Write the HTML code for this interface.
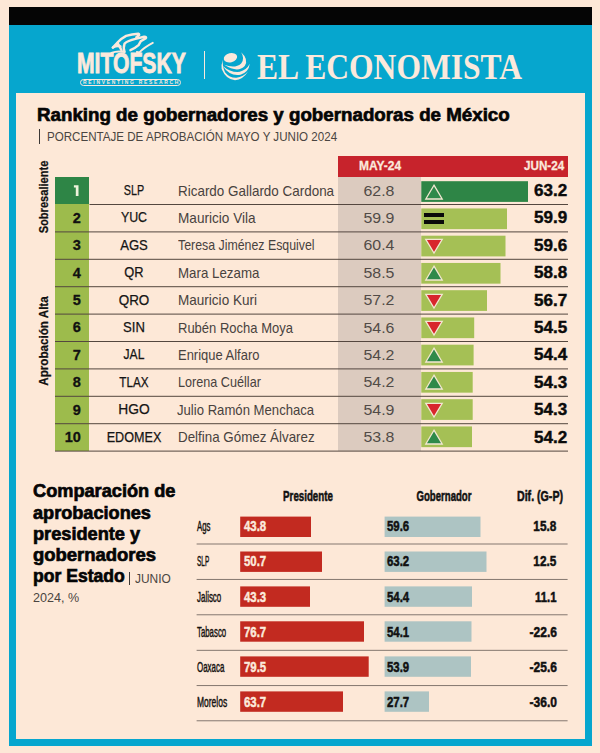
<!DOCTYPE html>
<html lang="es">
<head>
<meta charset="utf-8">
<title>Ranking de gobernadores y gobernadoras de México</title>
<style>
*{margin:0;padding:0;box-sizing:border-box}
html,body{width:600px;height:753px;overflow:hidden;background:#fde8d7;font-family:"Liberation Sans",sans-serif;color:#111}
.a{position:absolute}
.t{position:absolute;white-space:nowrap;line-height:1}
.ln{position:absolute;height:1px;background:#54473f}
  .rk{position:absolute;left:55px;width:34.2px;background:#9dbb4c}
.bar{position:absolute;left:421.3px;background:#a5c055}
.rb{position:absolute;left:240.2px;background:#c22a20}
.gb{position:absolute;left:384.5px;background:#adc4c3}
</style>
</head>
<body>
<div class="a" style="left:8.7px;top:7px;width:583.6px;height:18px;background:#050505"></div>
<div class="a" style="left:8.7px;top:24.5px;width:583.6px;height:721px;background:#06a6ce"></div>
<div class="a" style="left:16px;top:92.8px;width:569.3px;height:645.9px;background:#fde8d7"></div>
<!-- header logos -->
<svg class="a" style="left:105.6px;top:28.6px" width="52" height="31.2" viewBox="0 0 600 360" fill="none" stroke="#fbe9dc" stroke-width="28" stroke-linecap="round" stroke-linejoin="round">
<path d="M78 214 L130 160 Q165 115 232 80 Q300 58 372 54 Q392 62 376 78 L350 96"/>
<path d="M214 262 Q196 226 214 168 Q250 134 340 114 L440 90 Q476 92 456 110 L402 140 L376 186 Q340 218 282 244"/>
<path d="M356 266 L386 270 Q440 212 540 160" stroke-width="22"/>
<path d="M80 214 Q128 188 166 202"/>
<path d="M132 162 Q160 200 180 250"/>
<path d="M62 276 Q130 248 214 266" stroke-width="22"/>
</svg>
<div class="t" id="mito" style="left:77px;top:47.6px;font-size:30px;font-weight:bold;color:#fbe9dc;-webkit-text-stroke:0.9px #fbe9dc;transform:scaleX(0.7045);transform-origin:0 50%">MITOFSKY</div>
<div class="a" style="left:80px;top:78.5px;width:100.5px;height:7.8px;border:0.9px solid #fbe9dc;border-radius:4px"></div>
<div class="t" id="rr" style="left:83px;top:80px;font-size:5.4px;font-weight:bold;color:#fbe9dc;letter-spacing:1.9px;transform:scaleX(0.9112);transform-origin:0 50%">REINVENTING RESEARCH</div>
<div class="a" style="left:203.6px;top:51.2px;width:1.4px;height:28px;background:#fbe9dc"></div>
<svg class="a" style="left:215px;top:46px" width="40" height="40" viewBox="0 0 600 600" fill="#fbe9dc">
<ellipse cx="232" cy="176" rx="102" ry="68" transform="rotate(-14 232 176)"/>
<path d="M392 92 Q510 200 446 300 Q340 410 138 282 Q300 345 392 262 Q452 190 392 92 Z"/>
<path d="M522 266 Q506 390 382 432 Q226 462 116 300 Q240 404 372 388 Q474 358 522 266 Z"/>
<path d="M496 382 Q420 504 300 512 Q166 508 100 346 Q90 280 120 206 Q106 300 150 392 Q222 482 322 476 Q424 464 496 382 Z"/>
</svg>
<div class="t" id="eco" style="left:257px;top:49.6px;font-size:35px;color:#fbe9dc;font-family:'Liberation Serif',serif;font-weight:bold;transform:scaleX(0.9014);transform-origin:0 50%">EL ECONOMISTA</div>

<svg class="a" style="left:0;top:0" width="600" height="753" viewBox="0 0 600 753"><rect x="421.3" y="181.20" width="106.7" height="20.7" fill="#2e8546"/><rect x="421.3" y="208.45" width="85.7" height="20.7" fill="#a5c055"/><rect x="421.3" y="235.70" width="84.2" height="20.7" fill="#a5c055"/><rect x="421.3" y="262.95" width="79.2" height="20.7" fill="#a5c055"/><rect x="421.3" y="290.20" width="65.7" height="20.7" fill="#a5c055"/><rect x="421.3" y="317.45" width="52.9" height="20.7" fill="#a5c055"/><rect x="421.3" y="344.70" width="52.3" height="20.7" fill="#a5c055"/><rect x="421.3" y="371.95" width="51.4" height="20.7" fill="#a5c055"/><rect x="421.3" y="399.20" width="51.4" height="20.7" fill="#a5c055"/><rect x="421.3" y="426.45" width="50.7" height="20.7" fill="#a5c055"/><rect x="240.2" y="516.6" width="70.8" height="20.4" fill="#c22a20"/><rect x="384.6" y="516.6" width="95.9" height="20.4" fill="#adc4c3"/><rect x="240.2" y="551.5" width="81.8" height="20.4" fill="#c22a20"/><rect x="384.6" y="551.5" width="101.9" height="20.4" fill="#adc4c3"/><rect x="240.2" y="586.4" width="69.8" height="20.4" fill="#c22a20"/><rect x="384.6" y="586.4" width="87.4" height="20.4" fill="#adc4c3"/><rect x="240.2" y="621.3" width="123.8" height="20.4" fill="#c22a20"/><rect x="384.6" y="621.3" width="86.9" height="20.4" fill="#adc4c3"/><rect x="240.2" y="656.4" width="128.5" height="20.4" fill="#c22a20"/><rect x="384.6" y="656.4" width="86.4" height="20.4" fill="#adc4c3"/><rect x="240.2" y="691.4" width="102.8" height="20.4" fill="#c22a20"/><rect x="384.6" y="691.4" width="44.4" height="20.4" fill="#adc4c3"/></svg>
<div class="t" id="title" style="font-size:18px;color:#050505;font-weight:bold;-webkit-text-stroke:0.65px #050505;left:37.4px;top:105.9px;transform-origin:0 50%;transform:scaleX(1.0410);">Ranking de gobernadores y gobernadoras de México</div>
<div class="a" style="left:39px;top:129px;width:1.2px;height:15px;background:#3c3835"></div>
<div class="t" id="sub" style="font-size:13px;color:#4a4541;left:47px;top:130.3px;transform-origin:0 50%;transform:scaleX(0.8911);">PORCENTAJE DE APROBACIÓN MAYO Y JUNIO 2024</div>
<div class="a" style="left:338.3px;top:156.2px;width:229.7px;height:21px;background:#c7232c"></div>
<div class="t" id="may" style="font-size:13.7px;color:#fbe9dc;font-weight:bold;-webkit-text-stroke:0.3px #fbe9dc;left:379.75px;top:159.3px;transform-origin:0 50%;transform:translateX(-50%) scaleX(0.8750);transform-origin:50% 50%;">MAY-24</div>
<div class="t" id="jun" style="font-size:13.7px;color:#fbe9dc;font-weight:bold;-webkit-text-stroke:0.3px #fbe9dc;right:36.200000000000045px;top:159.3px;transform-origin:100% 50%;transform:scaleX(0.8511);">JUN-24</div>
<div class="a" style="left:338.3px;top:177.0px;width:83px;height:274.0px;background:#dccbbf"></div>
<div class="rk" style="background:#2e8546;top:177.0px;height:27.4px"></div>
<div class="t" id="st1" style="font-size:14px;color:#151515;-webkit-text-stroke:0.25px #151515;left:133.6px;top:182.89999999999998px;transform-origin:0 50%;transform:translateX(-50%) scaleX(0.7692);transform-origin:50% 50%;">SLP</div>
<div class="t" id="nm1" style="font-size:14.3px;color:#48423e;left:178.4px;top:183.5px;transform-origin:0 50%;transform:scaleX(0.9398);">Ricardo Gallardo Cardona</div>
<div class="t" id="mv1" style="font-size:15.5px;color:#514b47;left:379.2px;top:182.5px;transform-origin:0 50%;transform:translateX(-50%) scaleX(1.0250);transform-origin:50% 50%;">62.8</div>
<svg class="a" style="left:424.4px;top:182.5px" width="20" height="18" viewBox="0 0 20 18"><path d="M10 2.2 L18.2 16 L1.8 16 Z" fill="#2f8a4a" stroke="#f3e6d2" stroke-width="1.3"/></svg>
<div class="t" id="jv1" style="font-size:16px;color:#0a0a0a;font-weight:bold;-webkit-text-stroke:0.4px #0a0a0a;right:32.39999999999998px;top:182.89999999999998px;transform-origin:100% 50%;transform:scaleX(1.0645);">63.2</div>
<div class="rk" style="top:204.4px;height:27.4px"></div>
<div class="t" id="rk2" style="font-size:14.5px;color:#111;font-weight:bold;-webkit-text-stroke:0.3px #111;right:519.2px;top:210.7px;transform-origin:100% 50%;transform:scaleX(1.0000);">2</div>
<div class="t" id="st2" style="font-size:14px;color:#151515;-webkit-text-stroke:0.25px #151515;left:133.6px;top:210.29999999999998px;transform-origin:0 50%;transform:translateX(-50%) scaleX(0.8833);transform-origin:50% 50%;">YUC</div>
<div class="t" id="nm2" style="font-size:14.3px;color:#48423e;left:177.5px;top:210.9px;transform-origin:0 50%;transform:scaleX(0.9512);">Mauricio Vila</div>
<div class="t" id="mv2" style="font-size:15.5px;color:#514b47;left:379.2px;top:209.9px;transform-origin:0 50%;transform:translateX(-50%) scaleX(1.0250);transform-origin:50% 50%;">59.9</div>
<div class="a" style="left:424.4px;top:213.45px;width:20px;height:4px;background:#0a0a0a"></div><div class="a" style="left:424.4px;top:219.75px;width:20px;height:4px;background:#0a0a0a"></div>
<div class="t" id="jv2" style="font-size:16px;color:#0a0a0a;font-weight:bold;-webkit-text-stroke:0.4px #0a0a0a;right:32.39999999999998px;top:210.29999999999998px;transform-origin:100% 50%;transform:scaleX(1.0645);">59.9</div>
<div class="rk" style="top:231.8px;height:27.4px"></div>
<div class="t" id="rk3" style="font-size:14.5px;color:#111;font-weight:bold;-webkit-text-stroke:0.3px #111;right:519.2px;top:238.1px;transform-origin:100% 50%;transform:scaleX(1.0000);">3</div>
<div class="t" id="st3" style="font-size:14px;color:#151515;-webkit-text-stroke:0.25px #151515;left:133.6px;top:237.7px;transform-origin:0 50%;transform:translateX(-50%) scaleX(0.9333);transform-origin:50% 50%;">AGS</div>
<div class="t" id="nm3" style="font-size:14.3px;color:#48423e;left:177.5px;top:238.3px;transform-origin:0 50%;transform:scaleX(0.8639);">Teresa Jiménez Esquivel</div>
<div class="t" id="mv3" style="font-size:15.5px;color:#514b47;left:379.2px;top:237.3px;transform-origin:0 50%;transform:translateX(-50%) scaleX(1.0250);transform-origin:50% 50%;">60.4</div>
<svg class="a" style="left:424.4px;top:237.0px" width="20" height="18" viewBox="0 0 20 18"><path d="M1.8 2.4 L18.2 2.4 L10 16 Z" fill="#d8262c" stroke="#f3e6d2" stroke-width="1.3"/></svg>
<div class="t" id="jv3" style="font-size:16px;color:#0a0a0a;font-weight:bold;-webkit-text-stroke:0.4px #0a0a0a;right:32.39999999999998px;top:237.7px;transform-origin:100% 50%;transform:scaleX(1.0645);">59.6</div>
<div class="rk" style="top:259.2px;height:27.4px"></div>
<div class="t" id="rk4" style="font-size:14.5px;color:#111;font-weight:bold;-webkit-text-stroke:0.3px #111;right:519.2px;top:265.5px;transform-origin:100% 50%;transform:scaleX(1.0000);">4</div>
<div class="t" id="st4" style="font-size:14px;color:#151515;-webkit-text-stroke:0.25px #151515;left:133.6px;top:265.09999999999997px;transform-origin:0 50%;transform:translateX(-50%) scaleX(0.9167);transform-origin:50% 50%;">QR</div>
<div class="t" id="nm4" style="font-size:14.3px;color:#48423e;left:177.5px;top:265.7px;transform-origin:0 50%;transform:scaleX(0.9310);">Mara Lezama</div>
<div class="t" id="mv4" style="font-size:15.5px;color:#514b47;left:379.2px;top:264.7px;transform-origin:0 50%;transform:translateX(-50%) scaleX(1.0250);transform-origin:50% 50%;">58.5</div>
<svg class="a" style="left:424.4px;top:264.25px" width="20" height="18" viewBox="0 0 20 18"><path d="M10 2.2 L18.2 16 L1.8 16 Z" fill="#2f8a4a" stroke="#f3e6d2" stroke-width="1.3"/></svg>
<div class="t" id="jv4" style="font-size:16px;color:#0a0a0a;font-weight:bold;-webkit-text-stroke:0.4px #0a0a0a;right:32.39999999999998px;top:265.09999999999997px;transform-origin:100% 50%;transform:scaleX(1.0645);">58.8</div>
<div class="rk" style="top:286.6px;height:27.4px"></div>
<div class="t" id="rk5" style="font-size:14.5px;color:#111;font-weight:bold;-webkit-text-stroke:0.3px #111;right:519.2px;top:292.90000000000003px;transform-origin:100% 50%;transform:scaleX(1.0000);">5</div>
<div class="t" id="st5" style="font-size:14px;color:#151515;-webkit-text-stroke:0.25px #151515;left:133.6px;top:292.5px;transform-origin:0 50%;transform:translateX(-50%) scaleX(0.9609);transform-origin:50% 50%;">QRO</div>
<div class="t" id="nm5" style="font-size:14.3px;color:#48423e;left:177.5px;top:293.1px;transform-origin:0 50%;transform:scaleX(0.9470);">Mauricio Kuri</div>
<div class="t" id="mv5" style="font-size:15.5px;color:#514b47;left:379.2px;top:292.1px;transform-origin:0 50%;transform:translateX(-50%) scaleX(1.0250);transform-origin:50% 50%;">57.2</div>
<svg class="a" style="left:424.4px;top:291.5px" width="20" height="18" viewBox="0 0 20 18"><path d="M1.8 2.4 L18.2 2.4 L10 16 Z" fill="#d8262c" stroke="#f3e6d2" stroke-width="1.3"/></svg>
<div class="t" id="jv5" style="font-size:16px;color:#0a0a0a;font-weight:bold;-webkit-text-stroke:0.4px #0a0a0a;right:32.39999999999998px;top:292.5px;transform-origin:100% 50%;transform:scaleX(1.0645);">56.7</div>
<div class="rk" style="top:314.0px;height:27.4px"></div>
<div class="t" id="rk6" style="font-size:14.5px;color:#111;font-weight:bold;-webkit-text-stroke:0.3px #111;right:519.2px;top:320.3px;transform-origin:100% 50%;transform:scaleX(1.0000);">6</div>
<div class="t" id="st6" style="font-size:14px;color:#151515;-webkit-text-stroke:0.25px #151515;left:133.6px;top:319.9px;transform-origin:0 50%;transform:translateX(-50%) scaleX(0.9348);transform-origin:50% 50%;">SIN</div>
<div class="t" id="nm6" style="font-size:14.3px;color:#48423e;left:178.4px;top:320.5px;transform-origin:0 50%;transform:scaleX(0.9095);">Rubén Rocha Moya</div>
<div class="t" id="mv6" style="font-size:15.5px;color:#514b47;left:379.2px;top:319.5px;transform-origin:0 50%;transform:translateX(-50%) scaleX(1.0250);transform-origin:50% 50%;">54.6</div>
<svg class="a" style="left:424.4px;top:318.75px" width="20" height="18" viewBox="0 0 20 18"><path d="M1.8 2.4 L18.2 2.4 L10 16 Z" fill="#d8262c" stroke="#f3e6d2" stroke-width="1.3"/></svg>
<div class="t" id="jv6" style="font-size:16px;color:#0a0a0a;font-weight:bold;-webkit-text-stroke:0.4px #0a0a0a;right:32.39999999999998px;top:319.9px;transform-origin:100% 50%;transform:scaleX(1.0645);">54.5</div>
<div class="rk" style="top:341.4px;height:27.4px"></div>
<div class="t" id="rk7" style="font-size:14.5px;color:#111;font-weight:bold;-webkit-text-stroke:0.3px #111;right:519.2px;top:347.7px;transform-origin:100% 50%;transform:scaleX(1.0000);">7</div>
<div class="t" id="st7" style="font-size:14px;color:#151515;-webkit-text-stroke:0.25px #151515;left:133.6px;top:347.29999999999995px;transform-origin:0 50%;transform:translateX(-50%) scaleX(0.8646);transform-origin:50% 50%;">JAL</div>
<div class="t" id="nm7" style="font-size:14.3px;color:#48423e;left:178.4px;top:347.9px;transform-origin:0 50%;transform:scaleX(0.9067);">Enrique Alfaro</div>
<div class="t" id="mv7" style="font-size:15.5px;color:#514b47;left:379.2px;top:346.9px;transform-origin:0 50%;transform:translateX(-50%) scaleX(1.0250);transform-origin:50% 50%;">54.2</div>
<svg class="a" style="left:424.4px;top:346.0px" width="20" height="18" viewBox="0 0 20 18"><path d="M10 2.2 L18.2 16 L1.8 16 Z" fill="#2f8a4a" stroke="#f3e6d2" stroke-width="1.3"/></svg>
<div class="t" id="jv7" style="font-size:16px;color:#0a0a0a;font-weight:bold;-webkit-text-stroke:0.4px #0a0a0a;right:32.39999999999998px;top:347.29999999999995px;transform-origin:100% 50%;transform:scaleX(1.0645);">54.4</div>
<div class="rk" style="top:368.8px;height:27.4px"></div>
<div class="t" id="rk8" style="font-size:14.5px;color:#111;font-weight:bold;-webkit-text-stroke:0.3px #111;right:519.2px;top:375.09999999999997px;transform-origin:100% 50%;transform:scaleX(1.0000);">8</div>
<div class="t" id="st8" style="font-size:14px;color:#151515;-webkit-text-stroke:0.25px #151515;left:133.6px;top:374.69999999999993px;transform-origin:0 50%;transform:translateX(-50%) scaleX(0.8357);transform-origin:50% 50%;">TLAX</div>
<div class="t" id="nm8" style="font-size:14.3px;color:#48423e;left:178.4px;top:375.29999999999995px;transform-origin:0 50%;transform:scaleX(0.8840);">Lorena Cuéllar</div>
<div class="t" id="mv8" style="font-size:15.5px;color:#514b47;left:379.2px;top:374.29999999999995px;transform-origin:0 50%;transform:translateX(-50%) scaleX(1.0250);transform-origin:50% 50%;">54.2</div>
<svg class="a" style="left:424.4px;top:373.25px" width="20" height="18" viewBox="0 0 20 18"><path d="M10 2.2 L18.2 16 L1.8 16 Z" fill="#2f8a4a" stroke="#f3e6d2" stroke-width="1.3"/></svg>
<div class="t" id="jv8" style="font-size:16px;color:#0a0a0a;font-weight:bold;-webkit-text-stroke:0.4px #0a0a0a;right:32.39999999999998px;top:374.69999999999993px;transform-origin:100% 50%;transform:scaleX(1.0645);">54.3</div>
<div class="rk" style="top:396.2px;height:27.4px"></div>
<div class="t" id="rk9" style="font-size:14.5px;color:#111;font-weight:bold;-webkit-text-stroke:0.3px #111;right:519.2px;top:402.5px;transform-origin:100% 50%;transform:scaleX(1.0000);">9</div>
<div class="t" id="st9" style="font-size:14px;color:#151515;-webkit-text-stroke:0.25px #151515;left:133.6px;top:402.09999999999997px;transform-origin:0 50%;transform:translateX(-50%) scaleX(0.9844);transform-origin:50% 50%;">HGO</div>
<div class="t" id="nm9" style="font-size:14.3px;color:#48423e;left:176.6px;top:402.7px;transform-origin:0 50%;transform:scaleX(0.9181);">Julio Ramón Menchaca</div>
<div class="t" id="mv9" style="font-size:15.5px;color:#514b47;left:379.2px;top:401.7px;transform-origin:0 50%;transform:translateX(-50%) scaleX(1.0250);transform-origin:50% 50%;">54.9</div>
<svg class="a" style="left:424.4px;top:400.5px" width="20" height="18" viewBox="0 0 20 18"><path d="M1.8 2.4 L18.2 2.4 L10 16 Z" fill="#d8262c" stroke="#f3e6d2" stroke-width="1.3"/></svg>
<div class="t" id="jv9" style="font-size:16px;color:#0a0a0a;font-weight:bold;-webkit-text-stroke:0.4px #0a0a0a;right:32.39999999999998px;top:402.09999999999997px;transform-origin:100% 50%;transform:scaleX(1.0645);">54.3</div>
<div class="rk" style="top:423.6px;height:27.4px"></div>
<div class="t" id="rk10" style="font-size:14.5px;color:#111;font-weight:bold;-webkit-text-stroke:0.3px #111;right:519.2px;top:429.90000000000003px;transform-origin:100% 50%;transform:scaleX(1.0000);">10</div>
<div class="t" id="st10" style="font-size:14px;color:#151515;-webkit-text-stroke:0.25px #151515;left:133.6px;top:429.5px;transform-origin:0 50%;transform:translateX(-50%) scaleX(0.9016);transform-origin:50% 50%;">EDOMEX</div>
<div class="t" id="nm10" style="font-size:14.3px;color:#48423e;left:178.4px;top:430.1px;transform-origin:0 50%;transform:scaleX(0.9349);">Delfina Gómez Álvarez</div>
<div class="t" id="mv10" style="font-size:15.5px;color:#514b47;left:379.2px;top:429.1px;transform-origin:0 50%;transform:translateX(-50%) scaleX(1.0250);transform-origin:50% 50%;">53.8</div>
<svg class="a" style="left:424.4px;top:427.75px" width="20" height="18" viewBox="0 0 20 18"><path d="M10 2.2 L18.2 16 L1.8 16 Z" fill="#2f8a4a" stroke="#f3e6d2" stroke-width="1.3"/></svg>
<div class="t" id="jv10" style="font-size:16px;color:#0a0a0a;font-weight:bold;-webkit-text-stroke:0.4px #0a0a0a;right:32.39999999999998px;top:429.5px;transform-origin:100% 50%;transform:scaleX(1.0645);">54.2</div>
<div class="t" id="sob" style="left:43.3px;top:196.8px;font-size:13px;font-weight:bold;-webkit-text-stroke:0.25px #111;transform:translate(-50%,-50%) rotate(-90deg) scaleX(0.8529)">Sobresaliente</div>
<div class="t" id="apr" style="left:43.3px;top:340.8px;font-size:13px;font-weight:bold;-webkit-text-stroke:0.25px #111;transform:translate(-50%,-50%) rotate(-90deg) scaleX(0.8950)">Aprobación Alta</div>
<div class="t" id="bt1" style="font-size:18.5px;color:#050505;font-weight:bold;-webkit-text-stroke:0.7px #050505;left:33.4px;top:482.4px;transform-origin:0 50%;transform:scaleX(0.9828);">Comparación de</div>
<div class="t" id="bt2" style="font-size:18.5px;color:#050505;font-weight:bold;-webkit-text-stroke:0.7px #050505;left:33.4px;top:503.59999999999997px;transform-origin:0 50%;transform:scaleX(0.9800);">aprobaciones</div>
<div class="t" id="bt3" style="font-size:18.5px;color:#050505;font-weight:bold;-webkit-text-stroke:0.7px #050505;left:33.4px;top:524.8px;transform-origin:0 50%;transform:scaleX(0.9826);">presidente y</div>
<div class="t" id="bt4" style="font-size:18.5px;color:#050505;font-weight:bold;-webkit-text-stroke:0.7px #050505;left:33.4px;top:546.0px;transform-origin:0 50%;transform:scaleX(0.9976);">gobernadores</div>
<div class="t" id="bt5" style="font-size:18.5px;color:#050505;font-weight:bold;-webkit-text-stroke:0.7px #050505;left:33.4px;top:567.1999999999999px;transform-origin:0 50%;transform:scaleX(0.9495);">por Estado</div>
<div class="a" style="left:129.2px;top:572px;width:1px;height:13px;background:#3c3835"></div>
<div class="t" id="junio" style="font-size:13.7px;color:#4a4541;left:135.3px;top:572.4px;transform-origin:0 50%;transform:scaleX(0.8707);">JUNIO</div>
<div class="t" id="y2024" style="font-size:13.5px;color:#4a4541;left:33.4px;top:591.2px;transform-origin:0 50%;transform:scaleX(0.9300);">2024, %</div>
<div class="t" id="hp" style="font-size:15px;color:#111;font-weight:bold;-webkit-text-stroke:0.55px #111;left:307.7px;top:488.3px;transform-origin:0 50%;transform:translateX(-50%) scaleX(0.6494);transform-origin:50% 50%;">Presidente</div>
<div class="t" id="hg" style="font-size:15px;color:#111;font-weight:bold;-webkit-text-stroke:0.55px #111;left:444.2px;top:488.3px;transform-origin:0 50%;transform:translateX(-50%) scaleX(0.6395);transform-origin:50% 50%;">Gobernador</div>
<div class="t" id="hd" style="font-size:15px;color:#111;font-weight:bold;-webkit-text-stroke:0.55px #111;left:539.7px;top:488.3px;transform-origin:0 50%;transform:translateX(-50%) scaleX(0.7077);transform-origin:50% 50%;">Dif. (G-P)</div>
<div class="t" id="lb0" style="font-size:14.7px;color:#15120f;-webkit-text-stroke:0.45px #15120f;left:197px;top:519.45px;transform-origin:0 50%;transform:scaleX(0.5320);">Ags</div>
<div class="t" id="pv0" style="font-size:14px;color:#fbe9dc;font-weight:bold;-webkit-text-stroke:0.45px #fbe9dc;left:244px;top:518.55px;transform-origin:0 50%;transform:scaleX(0.8148);">43.8</div>
<div class="t" id="gv0" style="font-size:14px;color:#111;font-weight:bold;-webkit-text-stroke:0.5px #111;left:387.3px;top:518.55px;transform-origin:0 50%;transform:scaleX(0.8148);">59.6</div>
<div class="t" id="df0" style="font-size:14px;color:#111;font-weight:bold;-webkit-text-stroke:0.5px #111;right:43.299999999999955px;top:518.55px;transform-origin:100% 50%;transform:scaleX(0.8407);">15.8</div>
<div class="t" id="lb1" style="font-size:14.7px;color:#15120f;-webkit-text-stroke:0.45px #15120f;left:197px;top:554.45px;transform-origin:0 50%;transform:scaleX(0.4393);">SLP</div>
<div class="t" id="pv1" style="font-size:14px;color:#fbe9dc;font-weight:bold;-webkit-text-stroke:0.45px #fbe9dc;left:244px;top:553.55px;transform-origin:0 50%;transform:scaleX(0.8148);">50.7</div>
<div class="t" id="gv1" style="font-size:14px;color:#111;font-weight:bold;-webkit-text-stroke:0.5px #111;left:387.3px;top:553.55px;transform-origin:0 50%;transform:scaleX(0.8148);">63.2</div>
<div class="t" id="df1" style="font-size:14px;color:#111;font-weight:bold;-webkit-text-stroke:0.5px #111;right:43.299999999999955px;top:553.55px;transform-origin:100% 50%;transform:scaleX(0.8407);">12.5</div>
<div class="t" id="lb2" style="font-size:14.7px;color:#15120f;-webkit-text-stroke:0.45px #15120f;left:197px;top:590.45px;transform-origin:0 50%;transform:scaleX(0.5400);">Jalisco</div>
<div class="t" id="pv2" style="font-size:14px;color:#fbe9dc;font-weight:bold;-webkit-text-stroke:0.45px #fbe9dc;left:244px;top:589.55px;transform-origin:0 50%;transform:scaleX(0.8148);">43.3</div>
<div class="t" id="gv2" style="font-size:14px;color:#111;font-weight:bold;-webkit-text-stroke:0.5px #111;left:387.3px;top:589.55px;transform-origin:0 50%;transform:scaleX(0.8148);">54.4</div>
<div class="t" id="df2" style="font-size:14px;color:#111;font-weight:bold;-webkit-text-stroke:0.5px #111;right:43.299999999999955px;top:589.55px;transform-origin:100% 50%;transform:scaleX(0.8077);">11.1</div>
<div class="t" id="lb3" style="font-size:14.7px;color:#15120f;-webkit-text-stroke:0.45px #15120f;left:197px;top:625.45px;transform-origin:0 50%;transform:scaleX(0.5327);">Tabasco</div>
<div class="t" id="pv3" style="font-size:14px;color:#fbe9dc;font-weight:bold;-webkit-text-stroke:0.45px #fbe9dc;left:244px;top:624.55px;transform-origin:0 50%;transform:scaleX(0.8148);">76.7</div>
<div class="t" id="gv3" style="font-size:14px;color:#111;font-weight:bold;-webkit-text-stroke:0.5px #111;left:387.3px;top:624.55px;transform-origin:0 50%;transform:scaleX(0.8148);">54.1</div>
<div class="t" id="df3" style="font-size:14px;color:#111;font-weight:bold;-webkit-text-stroke:0.5px #111;right:43.299999999999955px;top:624.55px;transform-origin:100% 50%;transform:scaleX(0.8594);">-22.6</div>
<div class="t" id="lb4" style="font-size:14.7px;color:#15120f;-webkit-text-stroke:0.45px #15120f;left:197px;top:660.45px;transform-origin:0 50%;transform:scaleX(0.5412);">Oaxaca</div>
<div class="t" id="pv4" style="font-size:14px;color:#fbe9dc;font-weight:bold;-webkit-text-stroke:0.45px #fbe9dc;left:244px;top:659.55px;transform-origin:0 50%;transform:scaleX(0.8148);">79.5</div>
<div class="t" id="gv4" style="font-size:14px;color:#111;font-weight:bold;-webkit-text-stroke:0.5px #111;left:387.3px;top:659.55px;transform-origin:0 50%;transform:scaleX(0.8148);">53.9</div>
<div class="t" id="df4" style="font-size:14px;color:#111;font-weight:bold;-webkit-text-stroke:0.5px #111;right:43.299999999999955px;top:659.55px;transform-origin:100% 50%;transform:scaleX(0.8594);">-25.6</div>
<div class="t" id="lb5" style="font-size:14.7px;color:#15120f;-webkit-text-stroke:0.45px #15120f;left:197px;top:695.45px;transform-origin:0 50%;transform:scaleX(0.5769);">Morelos</div>
<div class="t" id="pv5" style="font-size:14px;color:#fbe9dc;font-weight:bold;-webkit-text-stroke:0.45px #fbe9dc;left:244px;top:694.55px;transform-origin:0 50%;transform:scaleX(0.8148);">63.7</div>
<div class="t" id="gv5" style="font-size:14px;color:#111;font-weight:bold;-webkit-text-stroke:0.5px #111;left:387.3px;top:694.55px;transform-origin:0 50%;transform:scaleX(0.8148);">27.7</div>
<div class="t" id="df5" style="font-size:14px;color:#111;font-weight:bold;-webkit-text-stroke:0.5px #111;right:43.299999999999955px;top:694.55px;transform-origin:100% 50%;transform:scaleX(0.8594);">-36.0</div>
<svg class="a" style="left:0;top:0" width="600" height="753" viewBox="0 0 600 753"><path d="M73.9 185.2 H78.5 V196 H75.8 V187.4 H73.9 Z" fill="#eef3dc"/><rect x="89.5" y="204.00" width="478.5" height="1" fill="#54473f"/><rect x="55" y="231.40" width="513" height="1" fill="#54473f"/><rect x="55" y="258.80" width="513" height="1" fill="#54473f"/><rect x="55" y="286.20" width="513" height="1" fill="#54473f"/><rect x="55" y="313.60" width="513" height="1" fill="#54473f"/><rect x="55" y="341.00" width="513" height="1" fill="#54473f"/><rect x="55" y="368.40" width="513" height="1" fill="#54473f"/><rect x="55" y="395.80" width="513" height="1" fill="#54473f"/><rect x="55" y="423.20" width="513" height="1" fill="#54473f"/><rect x="55" y="450.60" width="513" height="1" fill="#54473f"/><rect x="196.6" y="543.55" width="371" height="0.9" fill="#776b64"/><rect x="196.6" y="578.95" width="371" height="0.9" fill="#776b64"/><rect x="196.6" y="614.35" width="371" height="0.9" fill="#776b64"/><rect x="196.6" y="649.85" width="371" height="0.9" fill="#776b64"/><rect x="196.6" y="685.15" width="371" height="0.9" fill="#776b64"/><rect x="196.6" y="720.35" width="371" height="0.9" fill="#776b64"/></svg>
</body>
</html>
